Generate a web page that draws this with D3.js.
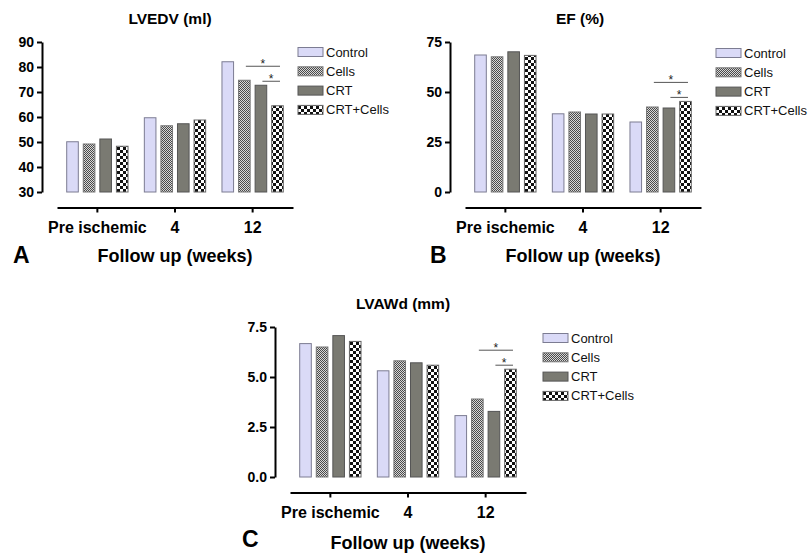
<!DOCTYPE html>
<html>
<head>
<meta charset="utf-8">
<title>LVEDV / EF / LVAWd</title>
<script src="https://cdn.jsdelivr.net/npm/d3@7"></script>
<style>
  body { margin: 0; background: #fff; }
  text { font-family: "Liberation Sans", Arial, sans-serif; }
</style>
</head>
<body>
<script>
// data
var groups = ["Pre ischemic", "4", "12"];
var series = ["Control", "Cells", "CRT", "CRT+Cells"];
var lvedv = [[50.1, 49.2, 51.2, 48.3], [59.7, 56.5, 57.3, 58.8], [82.1, 74.7, 72.7, 64.5]];
var ef = [[68.5, 67.6, 70.1, 68.3], [39.1, 40.0, 39.0, 39.0], [35.0, 42.5, 42.0, 45.3]];
var lvawd = [[6.67, 6.5, 7.07, 6.78], [5.31, 5.81, 5.71, 5.59], [3.07, 3.9, 3.28, 5.39]];
var lvedvTicks = [30, 40, 50, 60, 70, 80, 90];
var efTicks = [0, 25, 50, 75];
var lvawdTicks = [0, 2.5, 5, 7.5];
var sigGroup = "12";
var sigPairs = [["Cells", "CRT+Cells"], ["CRT", "CRT+Cells"]];

var width = 808, height = 554;
var svg = d3.select("body").append("svg").attr("width", width).attr("height", height);

// fills
var defs = svg.append("defs");
var pc = defs.append("pattern").attr("id", "pat-cells").attr("patternUnits", "userSpaceOnUse")
    .attr("width", 2).attr("height", 2);
pc.append("rect").attr("width", 2).attr("height", 2).attr("fill", "#d8d8d8");
pc.append("rect").attr("width", 1).attr("height", 1).attr("fill", "#4a4a4a");
pc.append("rect").attr("x", 1).attr("y", 1).attr("width", 1).attr("height", 1).attr("fill", "#4a4a4a");
var pk = defs.append("pattern").attr("id", "pat-crtcells").attr("patternUnits", "userSpaceOnUse")
    .attr("width", 6).attr("height", 6);
pk.append("rect").attr("width", 6).attr("height", 6).attr("fill", "#fff");
pk.append("rect").attr("width", 3).attr("height", 3).attr("fill", "#111");
pk.append("rect").attr("x", 3).attr("y", 3).attr("width", 3).attr("height", 3).attr("fill", "#111");

var fills = { "Control": "#dadaf7", "Cells": "url(#pat-cells)", "CRT": "#7a7a72", "CRT+Cells": "url(#pat-crtcells)" };
var strokes = { "Control": "#7c7c92", "Cells": "#777", "CRT": "#555", "CRT+Cells": "#666" };

// panel placement (letter / follow-up positions relative to the panel)
var panels = [
    { ox: 0, oy: 0, title: "LVEDV (ml)", titleX: 170, letter: "A", letterX: 13, letterY: 263, followY: 262,
      values: lvedv, ticks: lvedvTicks, fmt: d3.format("d"), legendX: 298, legendY: 52 },
    { ox: 408, oy: 0, title: "EF (%)", titleX: 580, letter: "B", letterX: 430, letterY: 263, followY: 262,
      values: ef, ticks: efTicks, fmt: d3.format("d"), legendX: 716, legendY: 53 },
    { ox: 233, oy: 285, title: "LVAWd (mm)", titleX: 403, letter: "C", letterX: 242, letterY: 262, followY: 264,
      values: lvawd, ticks: lvawdTicks, fmt: d3.format(".1f"), legendX: 543, legendY: 338 }
];

panels.forEach(function (p) {
    var g = svg.append("g").attr("transform", "translate(" + p.ox + "," + p.oy + ")");

    var y = d3.scaleLinear()
        .domain([p.ticks[0], p.ticks[p.ticks.length - 1]])
        .range([192, 42]);
    var x = d3.scaleBand().domain(groups).range([57, 293]).paddingInner(0.21).paddingOuter(0.125);
    var xs = d3.scaleBand().domain(series).range([0, x.bandwidth()]).paddingInner(0.3).paddingOuter(0);

    // bars
    groups.forEach(function (grp, gi) {
        g.append("g").selectAll("rect")
            .data(p.values[gi])
            .enter()
            .append("rect")
            .attr("x", function (d, i) { return x(grp) + xs(series[i]); })
            .attr("y", function (d) { return y(d); })
            .attr("width", xs.bandwidth())
            .attr("height", function (d) { return y(p.ticks[0]) - y(d); })
            .attr("fill", function (d, i) { return fills[series[i]]; })
            .attr("stroke", function (d, i) { return strokes[series[i]]; })
            .attr("stroke-width", 1);
    });

    // significance lines
    var gi = groups.indexOf(sigGroup);
    var pairMax = function (pair) {
        return d3.max(pair, function (s) { return p.values[gi][series.indexOf(s)]; });
    };
    var lowY = y(pairMax(sigPairs[1])) - 4;
    var levels = [lowY - 15, lowY];
    sigPairs.forEach(function (pair, k) {
        var x1 = x(sigGroup) + xs(pair[0]) + xs.bandwidth() / 2 + 1.5;
        var x2 = x(sigGroup) + xs(pair[1]) + xs.bandwidth() / 2 + 2.5;
        g.append("line").attr("x1", x1).attr("x2", x2).attr("y1", levels[k]).attr("y2", levels[k])
            .attr("stroke", "#555").attr("stroke-width", 1);
        g.append("text").attr("x", (x1 + x2) / 2).attr("y", levels[k] + 2)
            .attr("text-anchor", "middle").attr("font-size", "12px").attr("fill", "#222").text("*");
    });

    // axes
    var axisY = d3.axisLeft(y).tickValues(p.ticks).tickFormat(p.fmt).tickSize(5).tickSizeOuter(0).tickPadding(3);
    var gy = g.append("g").attr("transform", "translate(42,0)").call(axisY);
    gy.selectAll("path, line").attr("stroke", "#000").attr("stroke-width", 2);
    gy.selectAll("text").attr("font-size", "14px").attr("font-weight", "bold").attr("fill", "#000");

    var axisX = d3.axisBottom(x).tickSize(5).tickSizeOuter(0).tickPadding(9.5);
    var gx = g.append("g").attr("transform", "translate(0,207.5)").call(axisX);
    gx.selectAll("path, line").attr("stroke", "#000").attr("stroke-width", 2);
    gx.selectAll("text").attr("font-size", "16px").attr("font-weight", "bold").attr("fill", "#000");

    // titles
    svg.append("text").attr("x", p.titleX).attr("y", p.oy + 24)
        .attr("text-anchor", "middle").attr("font-size", "15.5px").attr("font-weight", "bold")
        .text(p.title);
    svg.append("text").attr("x", p.ox + 175).attr("y", p.oy + p.followY)
        .attr("text-anchor", "middle").attr("font-size", "18px").attr("font-weight", "bold")
        .text("Follow up (weeks)");
    svg.append("text").attr("x", p.letterX).attr("y", p.oy + p.letterY)
        .attr("font-size", "23px").attr("font-weight", "bold")
        .text(p.letter);

    // legend
    var leg = svg.append("g").attr("transform", "translate(" + p.legendX + "," + p.legendY + ")");
    series.forEach(function (s, i) {
        leg.append("rect").attr("x", 0).attr("y", i * 19.3 - 4.5).attr("width", 25).attr("height", 9)
            .attr("fill", fills[s]).attr("stroke", strokes[s]).attr("stroke-width", 1);
        leg.append("text").attr("x", 28).attr("y", i * 19.3).attr("dy", "0.35em")
            .attr("font-size", "13px").attr("fill", "#111").text(s);
    });
});
</script>
</body>
</html>
